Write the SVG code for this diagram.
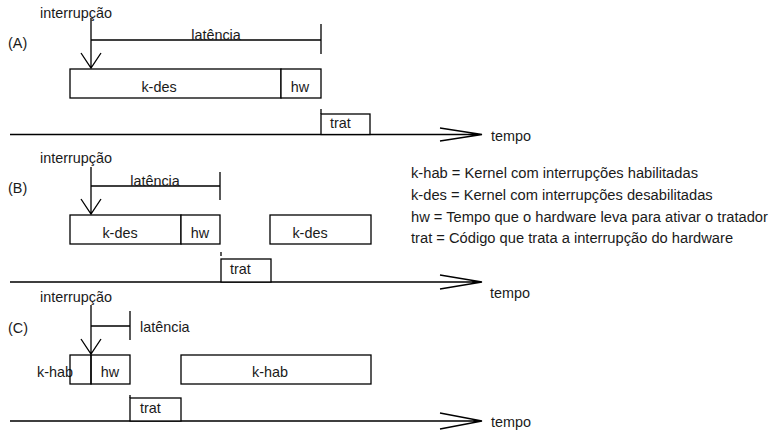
<svg xmlns="http://www.w3.org/2000/svg" width="773" height="431" viewBox="0 0 773 431">
<style>
text{font-family:"Liberation Sans",Arial,sans-serif;font-size:14.4px;fill:#1a1a1a}
.m{text-anchor:middle}
.lg{font-size:14.7px}
.ln{stroke:#000;stroke-width:1.3;fill:none}
.bx{stroke:#000;stroke-width:1.3;fill:#fff}
</style>
<rect width="773" height="431" fill="#fff"/>
<g id="connectors">
<path class="ln" d="M91 18V68M81 53L91 68L101 53"/>
<path class="ln" d="M91 40H321M321 24V54"/>
<path class="ln" d="M321 109V114"/>
<path class="ln" d="M10 134.5H482M440 128L482 134.5L440 141"/>
<path class="ln" d="M91 167V214M81 199L91 214L101 199"/>
<path class="ln" d="M91 186H220M220 172V200"/>
<path class="ln" d="M221 252V256"/>
<path class="ln" d="M10 282H482M440 275L482 282L440 289"/>
<path class="ln" d="M91 305V354M81 339L91 354L101 339"/>
<path class="ln" d="M91 326H130M130 311V340"/>
<path class="ln" d="M130 395V398"/>
<path class="ln" d="M10 421H482M440 413L482 421L440 429"/>
</g>
<g id="labels">
<text x="40" y="18">interrupção</text>
<text x="8" y="48">(A)</text>
<text x="216" y="40" class="m">latência</text>
<text x="40" y="163">interrupção</text>
<text x="8" y="193">(B)</text>
<text x="155" y="186" class="m">latência</text>
<text x="40" y="302">interrupção</text>
<text x="8" y="333">(C)</text>
<text x="140" y="332">latência</text>
<text x="37" y="377">k-hab</text>
</g>
<g id="A-kdes"><rect class="bx" x="70" y="69" width="211" height="29"/><text x="159" y="92" class="m">k-des</text></g>
<g id="A-hw"><rect class="bx" x="281" y="69" width="40" height="29"/><text x="300" y="92" class="m">hw</text></g>
<g id="A-trat"><rect class="bx" x="321" y="114" width="49" height="20.5"/><text x="330" y="128">trat</text></g>
<g id="A-tempo"><text x="491" y="141">tempo</text></g>
<g id="B-kdes"><rect class="bx" x="70" y="215" width="111" height="29"/><text x="120" y="238" class="m">k-des</text></g>
<g id="B-hw"><rect class="bx" x="181" y="215" width="39" height="29"/><text x="200" y="238" class="m">hw</text></g>
<g id="B-kdes2"><rect class="bx" x="270" y="215" width="101" height="29"/><text x="310" y="238" class="m">k-des</text></g>
<g id="B-trat"><rect class="bx" x="221" y="259" width="50" height="23"/><text x="230" y="274">trat</text></g>
<g id="B-tempo"><text x="490" y="298">tempo</text></g>
<g id="C-khab"><rect class="bx" x="70" y="355" width="21" height="29" style="fill:none"/></g>
<g id="C-hw"><rect class="bx" x="91" y="355" width="39" height="29" style="fill:none"/><text x="110" y="377" class="m">hw</text></g>
<g id="C-khab2"><rect class="bx" x="181" y="355" width="190" height="29"/><text x="270" y="377" class="m">k-hab</text></g>
<g id="C-trat"><rect class="bx" x="130" y="398" width="51" height="23"/><text x="140" y="413">trat</text></g>
<g id="C-tempo"><text x="491" y="427">tempo</text></g>
<g id="legend">
<text class="lg" x="411" y="178">k-hab = Kernel com interrupções habilitadas</text>
<text class="lg" x="411" y="200">k-des = Kernel com interrupções desabilitadas</text>
<text class="lg" x="411" y="222">hw = Tempo que o hardware leva para ativar o tratador</text>
<text class="lg" x="411" y="243">trat = Código que trata a interrupção do hardware</text>
</g>
</svg>
